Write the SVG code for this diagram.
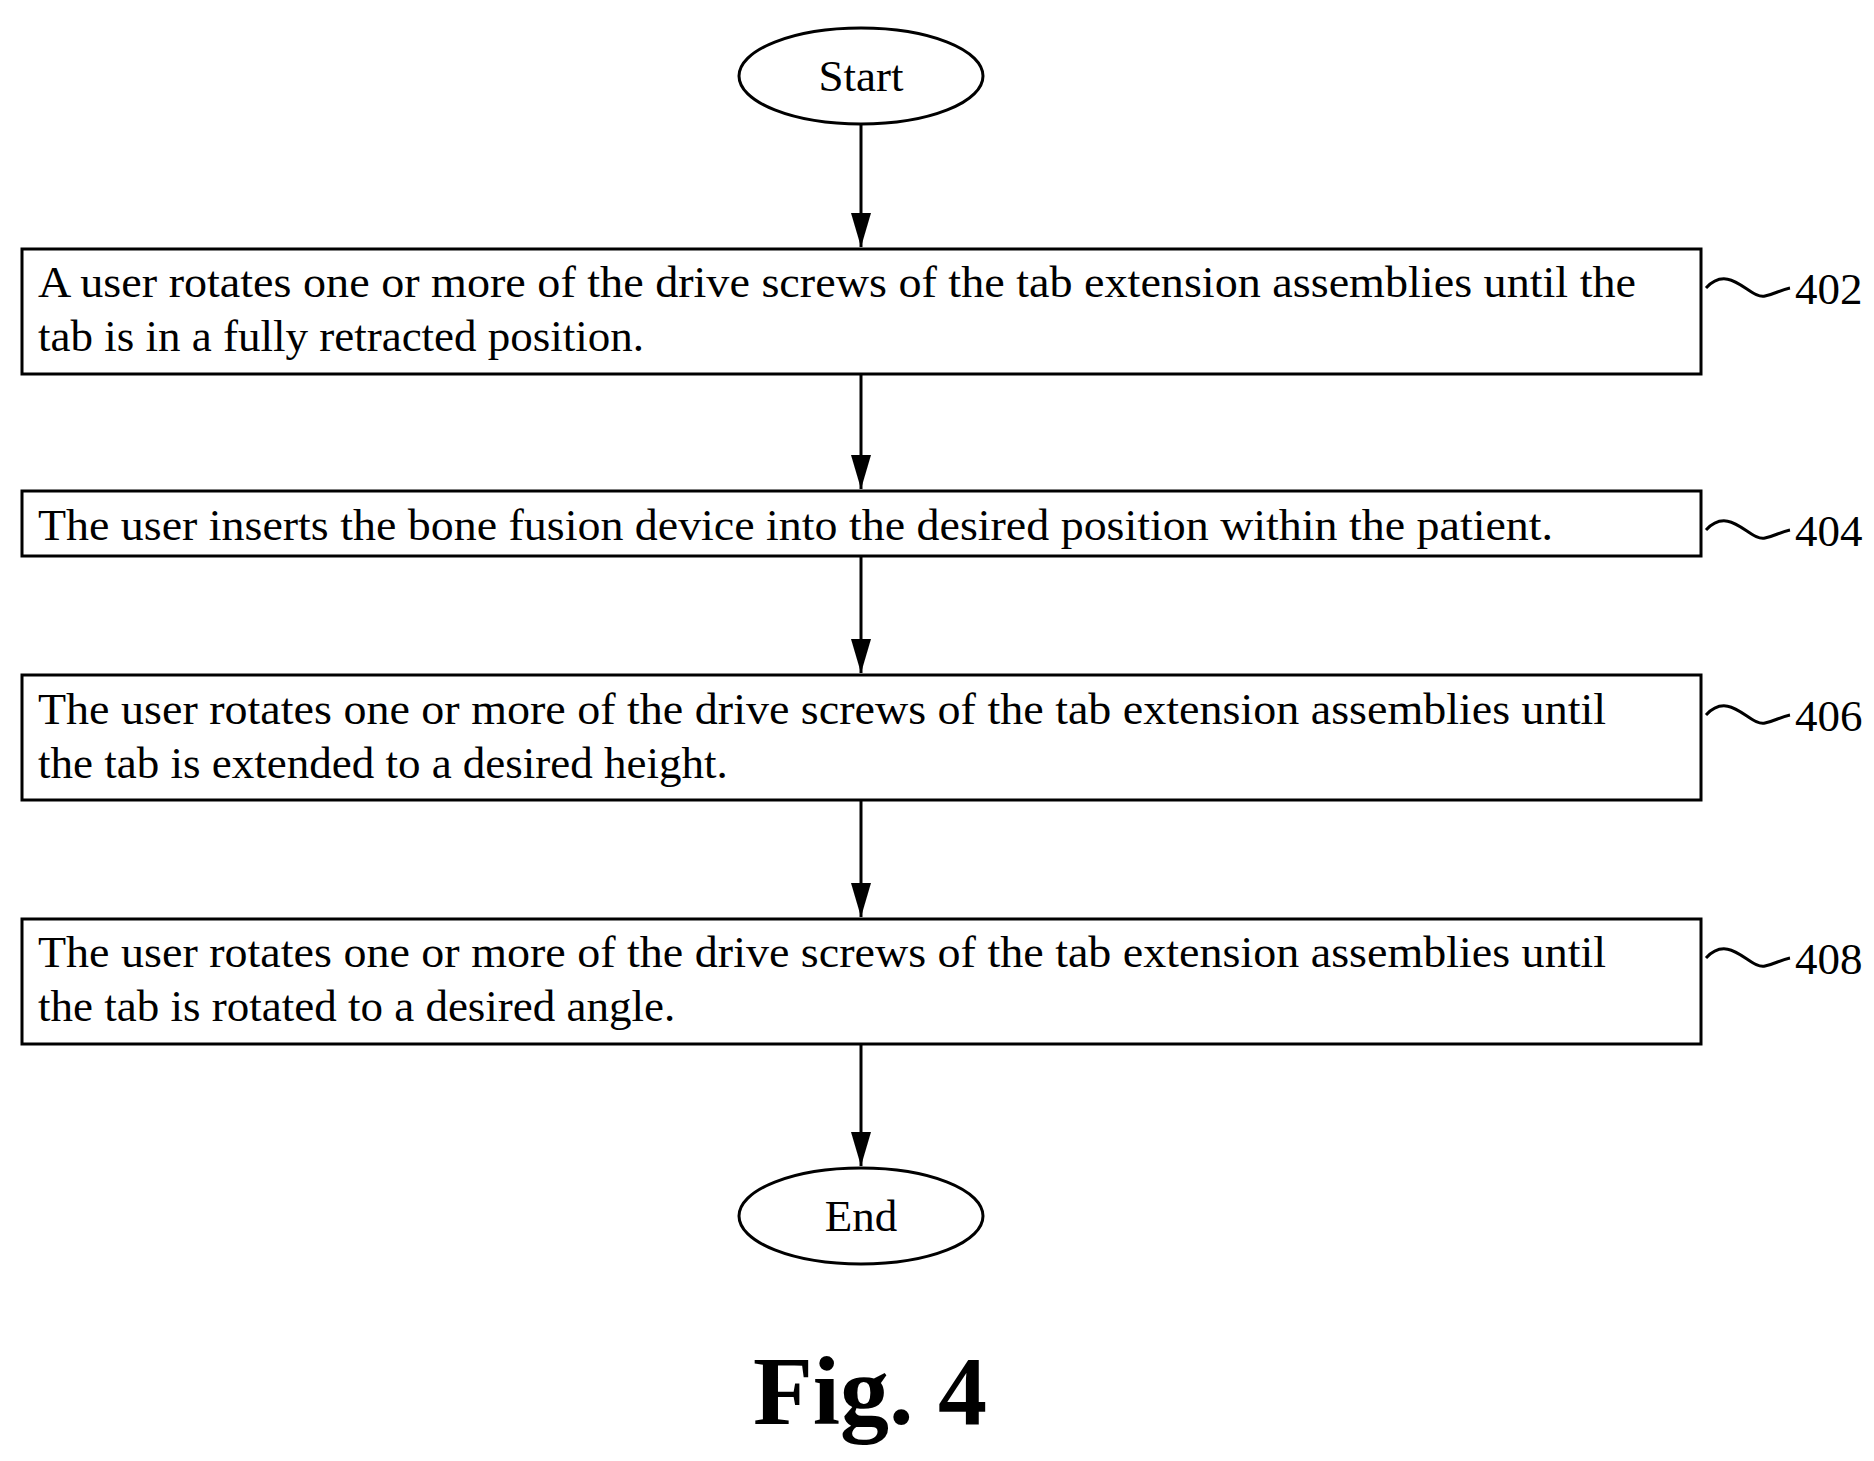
<svg xmlns="http://www.w3.org/2000/svg" width="1874" height="1461" viewBox="0 0 1874 1461">
<defs>
<marker id="ah" markerWidth="34" markerHeight="20" refX="34" refY="10" orient="auto" markerUnits="userSpaceOnUse"><path d="M0,0 L34,10 L0,20 Z" fill="#000"/></marker>
<style>
.s{fill:#fff;stroke:#000;stroke-width:3}
.t{font-family:"Liberation Serif",serif;font-size:45px;fill:#000}
.c{fill:none;stroke:#000;stroke-width:3}
</style>
</defs>
<rect width="1874" height="1461" fill="#fff"/>
<g id="start"><ellipse class="s" cx="861" cy="76" rx="122" ry="48"/><text class="t" x="861" y="91" text-anchor="middle">Start</text></g>
<g id="n402"><rect class="s" x="22" y="249" width="1679" height="125"/>
<text class="t" x="38" y="297" textLength="1598" lengthAdjust="spacingAndGlyphs">A user rotates one or more of the drive screws of the tab extension assemblies until the</text>
<text class="t" x="38" y="351">tab is in a fully retracted position.</text>
<path class="c" d="M1706,288 C1730,262 1750,300 1765,296 C1775,294 1780,290 1790,288"/>
<text class="t" x="1795" y="304">402</text></g>
<g id="n404"><rect class="s" x="22" y="491" width="1679" height="65"/>
<text class="t" x="38" y="540" textLength="1515" lengthAdjust="spacingAndGlyphs">The user inserts the bone fusion device into the desired position within the patient.</text>
<path class="c" d="M1706,530 C1730,504 1750,542 1765,538 C1775,536 1780,532 1790,530"/>
<text class="t" x="1795" y="546">404</text></g>
<g id="n406"><rect class="s" x="22" y="675" width="1679" height="125"/>
<text class="t" x="38" y="724" textLength="1568" lengthAdjust="spacingAndGlyphs">The user rotates one or more of the drive screws of the tab extension assemblies until</text>
<text class="t" x="38" y="778">the tab is extended to a desired height.</text>
<path class="c" d="M1706,715 C1730,689 1750,727 1765,723 C1775,721 1780,717 1790,715"/>
<text class="t" x="1795" y="731">406</text></g>
<g id="n408"><rect class="s" x="22" y="919" width="1679" height="125"/>
<text class="t" x="38" y="967" textLength="1568" lengthAdjust="spacingAndGlyphs">The user rotates one or more of the drive screws of the tab extension assemblies until</text>
<text class="t" x="38" y="1021">the tab is rotated to a desired angle.</text>
<path class="c" d="M1706,958 C1730,932 1750,970 1765,966 C1775,964 1780,960 1790,958"/>
<text class="t" x="1795" y="974">408</text></g>
<g id="end"><ellipse class="s" cx="861" cy="1216" rx="122" ry="48"/><text class="t" x="861" y="1231" text-anchor="middle">End</text></g>
<g id="connectors">
<line class="c" x1="861" y1="124" x2="861" y2="247" marker-end="url(#ah)"/>
<line class="c" x1="861" y1="374" x2="861" y2="489" marker-end="url(#ah)"/>
<line class="c" x1="861" y1="556" x2="861" y2="673" marker-end="url(#ah)"/>
<line class="c" x1="861" y1="800" x2="861" y2="917" marker-end="url(#ah)"/>
<line class="c" x1="861" y1="1044" x2="861" y2="1166" marker-end="url(#ah)"/>
</g>
<text x="870" y="1424" text-anchor="middle" style="font-family:'Liberation Serif',serif;font-size:98px;font-weight:bold">Fig. 4</text>
</svg>
